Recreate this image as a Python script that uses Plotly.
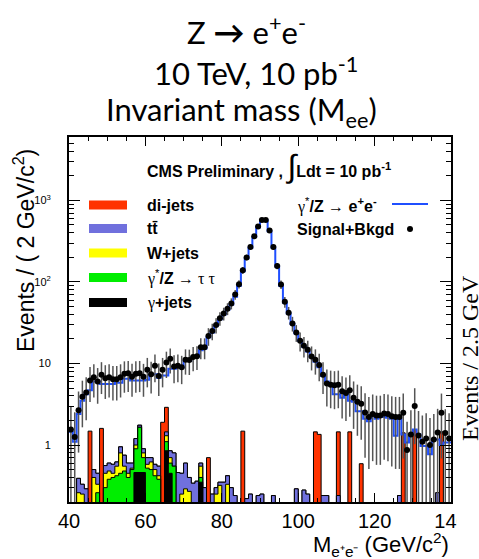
import numpy as np
import plotly.graph_objects as go

# ---------------- data (1 GeV bins from 40 to 140 GeV/c^2) ----------------
bin_edges = list(range(40, 141))

# pseudo-data "Signal+Bkgd" (events per bin), None = no point drawn
data_values = [
    1.55, 1.25, 2.67, 3.9, 4.4, 6.2, 6.8, 6.0, 7.3, 6.6,          # 40-49
    6.8, 6.4, 6.4, 6.8, 7.5, 7.6, 6.9, 7.5, 7.6, 6.9,             # 50-59
    8.4, 7.4, 9.4, 7.0, 8.4, 10.3, 11.4, 9.2, 9.4, 9.0,           # 60-69
    11.1, 11.0, 12.0, 12.3, 15.8, 15.8, 21.8, 25, 29.6, 35.8,     # 70-79
    41, 47, 54.5, 70, 94, 139, 200, 268, 363, 478,                # 80-89
    577, 577, 427, 268, 157, 93, 57, 42, 31, 24,                  # 90-99
    19, 16.5, 14.7, 12.2, 11.1, 9.6, 7.3, 5.7, 5.5, 5.4,          # 100-109
    5.5, 4.55, 4.35, 4.7, 3.8, 3.4, 3.2, 2.5, 2.2, 2.4,           # 110-119
    2.3, 2.3, 2.44, 2.4, 2.26, 2.2, 2.2, 2.48, 0.87, 1.35,        # 120-129
    3.0, 1.31, 1.1, 1.2, 1.0, 1.17, 1.42, 2.48, 1.4, 1.2,         # 130-139
]

# gamma*/Z -> e+e- signal MC
signal_mc = [
    1.45, 1.1, 2.4, 3.5, 4.2, 4.7, 6.0, 6.0, 5.6, 5.6,
    5.6, 5.6, 5.8, 5.8, 6.5, 6.5, 6.2, 6.2, 6.2, 6.2,
    6.3, 7.4, 7.4, 6.7, 7.1, 7.1, 8.6, 8.6, 8.9, 8.9,
    10.8, 10.8, 12.0, 12.2, 14.5, 15.3, 21, 24, 29, 35,
    40, 46, 53, 66, 90, 135, 195, 262, 355, 470,
    570, 570, 420, 265, 155, 90, 56, 41, 30.5, 23.5,
    19, 16, 14, 12, 10.5, 9, 7, 6, 5.5, 4.2,
    4.2, 3.8, 4.4, 3.5, 3.4, 2.6, 2.6, 2.1, 1.96, 2.26,
    2.1, 2.3, 2.2, 2.16, 2.1, 1.3, 2.1, 1.35, 1.07, 1.35,
    1.55, 1.35, 0.97, 0.97, 0.77, 1.17, 1.17, 1.0, 1.07, 1.07,
]

# background components (stacked from the bottom: gamma+jets, Z->tautau, W+jets, ttbar, di-jets)
gamma_jets = [0.0] * 100
for m, v in {57: 0.46, 58: 0.46, 59: 0.46, 65: 0.85, 66: 0.45, 74: 0.35}.items():
    gamma_jets[m - 40] = v

z_tautau = [0.0] * 100
for m, v in {47: 0.26, 49: 0.30, 50: 0.38, 51: 0.40, 52: 0.42, 53: 0.45, 54: 0.48,
             55: 0.40, 56: 0.50, 57: 0.44, 58: 1.19, 59: 0.24, 60: 0.52, 61: 0.50,
             62: 0.42, 63: 0.38, 65: 0.25, 66: 0.15, 67: 0.55, 74: 0.05}.items():
    z_tautau[m - 40] = v

w_jets = [0.0] * 100
for m, v in {42: 0.26, 43: 0.25, 46: 0.40, 47: 0.07, 49: 0.15, 50: 0.10, 51: 0.05,
             52: 0.13, 53: 0.35, 54: 0.07, 55: 0.05, 56: 0.02, 57: 0.10, 59: 0.10,
             60: 0.06, 61: 0.12, 62: 0.08, 63: 0.04, 65: 0.20, 66: 0.10, 69: 0.25,
             70: 0.29, 71: 0.27, 74: 0.15, 78: 0.25, 79: 0.32, 81: 0.33}.items():
    w_jets[m - 40] = v

ttbar = [0.0] * 100
for m, v in {42: 0.13, 43: 0.08, 44: 0.29, 46: 0.10, 47: 0.12, 49: 0.11, 50: 0.12,
             51: 0.13, 52: 0.07, 53: 0.15, 54: 0.20, 55: 0.15, 56: 0.08, 57: 0.20,
             58: 0.10, 59: 0.10, 60: 0.12, 61: 0.08, 62: 0.08, 63: 0.13, 65: 0.15,
             66: 0.15, 67: 0.25, 68: 0.46, 69: 0.20, 70: 0.31, 71: 0.13, 72: 0.34,
             73: 0.36, 74: 0.05, 75: 0.30, 77: 0.25, 78: 0.05, 79: 0.03, 80: 0.35,
             81: 0.09, 82: 0.30, 83: 0.24, 86: 0.22, 87: 0.25, 89: 0.24, 90: 0.25,
             93: 0.24, 99: 0.29, 101: 0.28, 102: 0.25, 106: 0.24, 107: 0.24,
             110: 0.24, 126: 0.24, 136: 0.26}.items():
    ttbar[m - 40] = v

di_jets = [0.0] * 100
for m, v in {45: 1.48, 48: 1.6, 64: 1.9, 65: 1.45, 76: 0.7, 85: 1.48, 104: 1.45,
             105: 1.35, 110: 1.21, 113: 1.45, 116: 0.59, 127: 1.41, 130: 1.55,
             137: 1.45}.items():
    di_jets[m - 40] = v

event_weight = 1.3  # MC weight used for the statistical error bars

# ---------------- build figure ----------------
edges = np.array(bin_edges, dtype=float)
centers = 0.5 * (edges[:-1] + edges[1:])
L, R, T, B = 69, 451, 137, 502
W, H = 479, 559


def px(x):
    return (x - L) / (R - L)


def py(y):
    return (B - y) / (B - T)


components = np.array([gamma_jets, z_tautau, w_jets, ttbar, di_jets])
cumulative = np.cumsum(components, axis=0)
layer_colors = ["#000000", "#00ee00", "#ffff00", "#7070dd", "#ff3300"]

FLOOR = 0.02


def step_polygon(vals):
    v = np.where(vals > 0, vals, FLOOR)
    xs, ys = [edges[0]], [FLOOR]
    for i in range(len(v)):
        xs += [edges[i], edges[i + 1]]
        ys += [v[i], v[i]]
    xs.append(edges[-1])
    ys.append(FLOOR)
    return xs, ys


fig = go.Figure()
for k in range(len(components) - 1, -1, -1):
    xs, ys = step_polygon(cumulative[k])
    fig.add_trace(go.Scatter(x=xs, y=ys, mode="lines", fill="toself",
                             fillcolor=layer_colors[k],
                             line=dict(color="black", width=1),
                             hoverinfo="skip"))

sig = np.array(signal_mc, dtype=float)
fig.add_trace(go.Scatter(x=edges, y=np.append(sig, sig[-1]), mode="lines",
                         line=dict(color="#1f4fff", width=2, shape="hv")))

dv = np.array([np.nan if v is None else v for v in data_values], dtype=float)
errs = np.sqrt(event_weight * np.nan_to_num(dv))
fig.add_trace(go.Scatter(x=centers, y=dv, mode="markers",
                         marker=dict(color="black", size=6),
                         error_y=dict(type="data", array=errs, visible=True,
                                      color="#555555", thickness=1.5, width=0)))

minor_vals = [k * 10 ** e for e in range(-1, 4) for k in range(2, 10)
              if 0.2 <= k * 10 ** e <= 6000]

fig.update_layout(
    width=W, height=H,
    margin=dict(l=L, r=W - R, t=T, b=H - B, pad=0),
    paper_bgcolor="white", plot_bgcolor="white",
    showlegend=False,
    font=dict(family="Liberation Sans, Arial, sans-serif", color="black"),
)
fig.update_xaxes(
    range=[40, 140], tickvals=[40, 60, 80, 100, 120, 140],
    ticks="inside", ticklen=9, tickwidth=1, tickcolor="black",
    showline=True, linecolor="black", linewidth=2, mirror="ticks",
    showgrid=False, zeroline=False,
    tickfont=dict(family="Liberation Sans, Arial", size=20, color="black"),
    minor=dict(ticks="inside", ticklen=4, dtick=5, tickcolor="black", showgrid=False),
)
fig.update_yaxes(
    type="log", range=[np.log10(0.2), np.log10(6000)],
    tickvals=[1, 10, 100, 1000], ticktext=["1", "10", "10<sup>2</sup>", "10<sup>3</sup>"],
    ticks="inside", ticklen=11, tickwidth=1, tickcolor="black",
    showline=True, linecolor="black", linewidth=2, mirror="ticks",
    showgrid=False, zeroline=False, ticklabelstandoff=14,
    tickfont=dict(family="Liberation Sans, Arial", size=11, color="black"),
    minor=dict(ticks="inside", ticklen=5, tickvals=minor_vals, tickcolor="black",
               showgrid=False),
)

TITLE_FONT = dict(family="Lato, Open Sans, sans-serif", size=31, color="black")
ann = []


def add_text(text, x, y, font, xanchor="center", yanchor="middle", angle=0):
    ann.append(dict(text=text, x=px(x), y=py(y), xref="paper", yref="paper",
                    showarrow=False, font=font, xanchor=xanchor, yanchor=yanchor,
                    textangle=angle))


add_text("Z <b>→</b> e<sup>+</sup>e<sup>-</sup>", 246, 30, TITLE_FONT)
add_text("10 TeV, 10 pb<sup>-1</sup>", 256, 72, TITLE_FONT)
add_text("Invariant mass (M<sub>ee</sub>)", 241, 112, TITLE_FONT)

# axis titles
add_text("Events / ( 2 GeV/c<sup>2</sup>)", 24, 251,
         dict(family="Liberation Sans, Arial", size=23, color="black"), angle=-90)
add_text("M<sub>e⁺e⁻</sub> (GeV/c<sup>2</sup>)", 451, 544.5,
         dict(family="Liberation Sans, Arial", size=22, color="black"), xanchor="right")

# overlay text from slide
add_text("Events / 2.5 GeV", 470, 358,
         dict(family="Liberation Serif, Times New Roman, serif", size=24, color="black"),
         angle=-90)

BOLD = dict(family="Liberation Sans, Arial", size=16, color="black")
SER = "font-family:Liberation Serif;font-weight:normal"
add_text("<b>CMS Preliminary ,</b> <span style='font-size:32px;font-weight:normal'>∫</span>"
         "<b>Ldt = 10 pb<sup>-1</sup></b>", 145, 166, BOLD, xanchor="left")

legend_left = [
    ("<b>di-jets</b>", layer_colors[4], 205),
    ("<b>tt̄</b>", layer_colors[3], 228.5),
    ("<b>W+jets</b>", layer_colors[2], 253),
    (f"<span style='{SER}'>γ</span><sup>*</sup><b>/Z</b> <span style='{SER}'>→ τ τ</span>",
     layer_colors[1], 277.5),
    (f"<span style='{SER}'>γ</span><b>+jets</b>", layer_colors[0], 302.5),
]
shapes = []
for text, col, yy in legend_left:
    shapes.append(dict(type="rect", xref="paper", yref="paper",
                       x0=px(89), x1=px(127), y0=py(yy + 4.5), y1=py(yy - 4.5),
                       fillcolor=col, line=dict(width=0)))
    add_text(text, 145, yy, BOLD, xanchor="left")

add_text(f"<span style='{SER}'>γ</span><sup>*</sup><b>/Z</b> <span style='{SER}'>→</span> "
         "<b>e<sup>+</sup>e<sup>-</sup></b>", 295, 205, BOLD, xanchor="left")
add_text("<b>Signal+Bkgd</b>", 295, 229, BOLD, xanchor="left")
shapes.append(dict(type="line", xref="paper", yref="paper", x0=px(392), x1=px(428),
                   y0=py(204), y1=py(204), line=dict(color="#1f4fff", width=2)))
shapes.append(dict(type="circle", xref="paper", yref="paper", x0=px(407), x1=px(413),
                   y0=py(232), y1=py(226), fillcolor="black", line=dict(width=0)))
# slide overlay hiding the end of the last tick label
shapes.append(dict(type="rect", xref="paper", yref="paper", x0=px(457), x1=px(479),
                   y0=py(535), y1=py(505), fillcolor="white", line=dict(width=0),
                   layer="above"))

fig.update_layout(annotations=ann, shapes=shapes)
fig.write_html("out.html")
